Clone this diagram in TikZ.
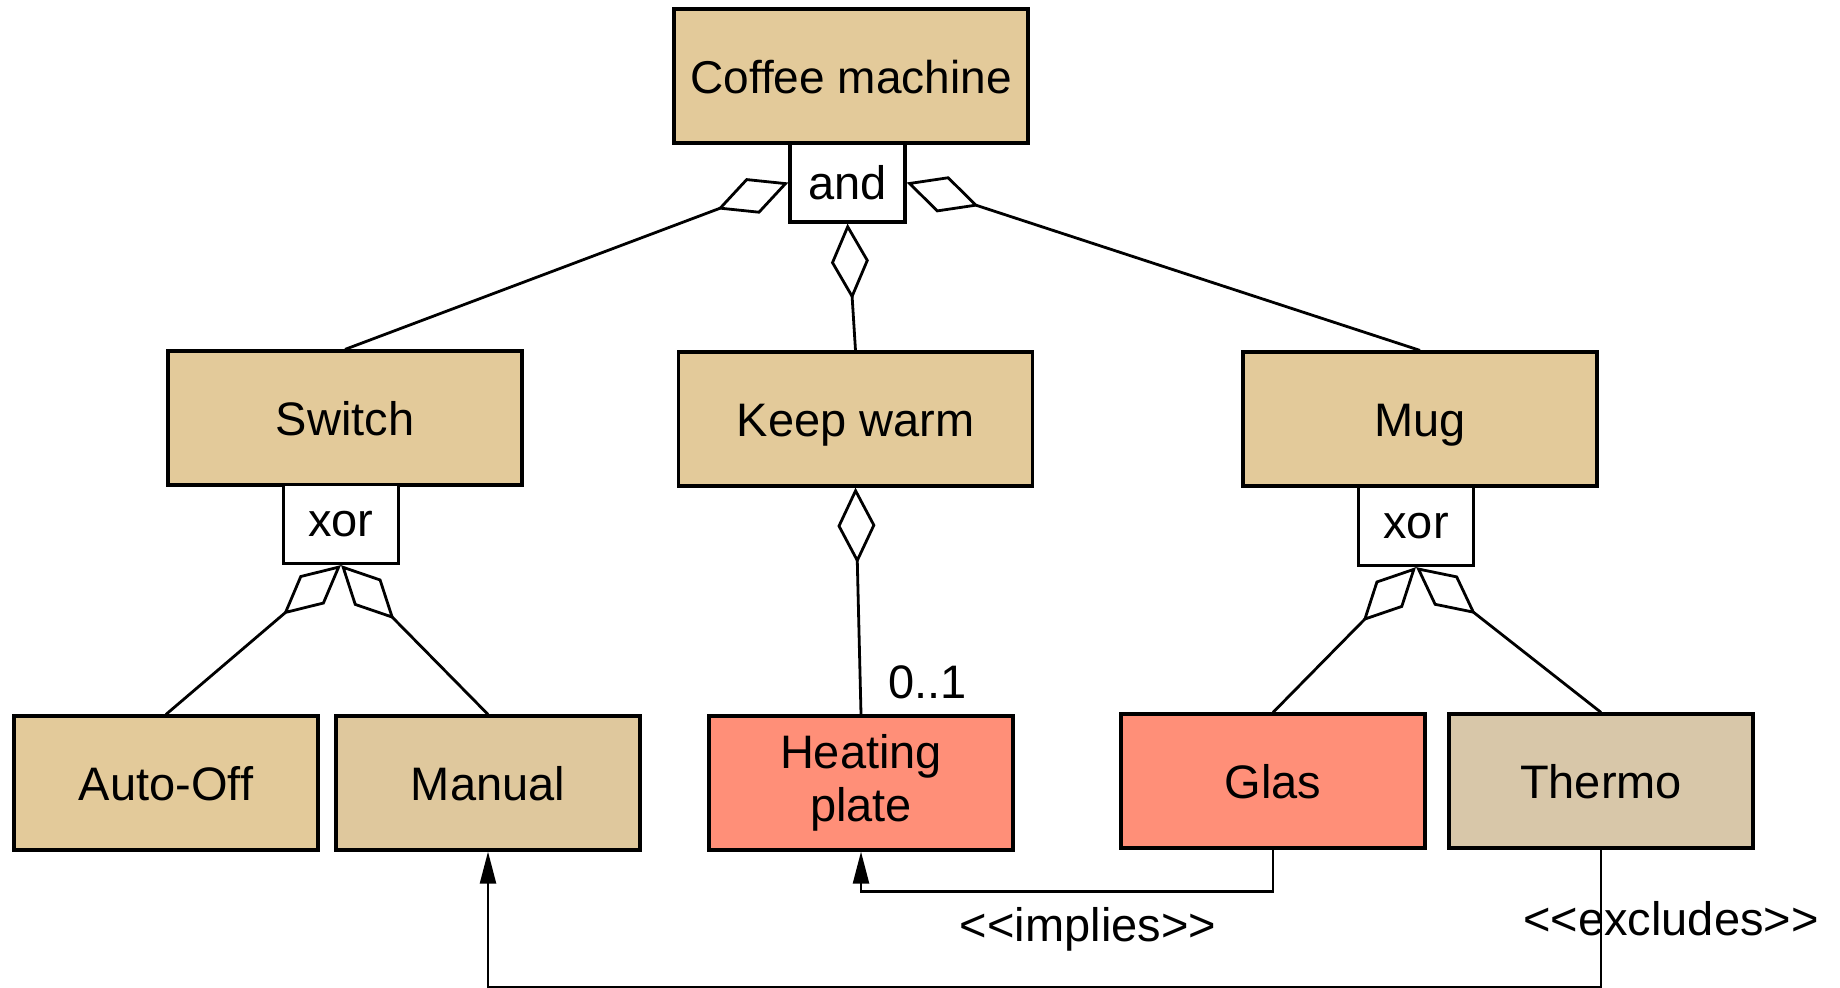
\documentclass[tikz,border=0pt]{standalone}
\usepackage{fontspec}
\setmainfont{Liberation Sans}
\usetikzlibrary{arrows.meta, positioning}
\definecolor{tanA}{RGB}{227, 202, 154}
\definecolor{tanB}{RGB}{223, 200, 157}
\definecolor{tanC}{RGB}{216, 199, 169}
\definecolor{salmonA}{RGB}{255, 143, 120}

\begin{document}
\begin{tikzpicture}[x=0.5pt, y=-0.5pt, font=\fontsize{23.5}{26.5}\selectfont,
        box/.style={rectangle, draw=black, line width=1.6pt, fill=tanA, minimum width=177pt, minimum height=67pt, inner sep=0pt, align=center, text height=17pt, text depth=0pt},
        leaf/.style={box, minimum width=152pt},
        gate/.style={rectangle, draw=black, line width=1.6pt, fill=white, minimum width=57.5pt, minimum height=39.5pt, inner sep=0pt},
        agg/.style={line width=1.4pt, -{Diamond[open, length=38pt, width=19pt]}},
        dep/.style={line width=1.2pt, -{Triangle[length=16pt, width=8pt]}},
        stereo/.style={inner sep=0pt}
    ]
        \useasboundingbox (0,0) rectangle (1840,987);
        % features
        \node[box, font=\fontsize{23}{26}\selectfont] (coffee) at (851,76) {Coffee machine};
        \node[gate] (andgate) at (847.5,182.5) {and};
        \node[box] (switch)   at (345,418)   {Switch};
        \node[box] (keepwarm) at (855.5,419) {Keep warm};
        \node[box] (mug)      at (1420,419)  {Mug};
        \node[gate] (xorA) at (341,524)  {xor};
        \node[gate] (xorB) at (1416,526) {xor};
        \node[leaf] (autooff) at (166,783)  {Auto-Off};
        \node[leaf, fill=tanB] (manual)  at (488,783)  {Manual};
        \node[leaf, fill=salmonA, text height=, text depth=] (heating) at (861,783) {Heating\\plate};
        \node[leaf, fill=salmonA] (glas)    at (1273,781) {Glas};
        \node[leaf, fill=tanC] (thermo)     at (1601,781) {Thermo};
        % decomposition
        \draw[agg] (switch.north) -- (andgate.west);
        \draw[agg] (keepwarm.north) -- (andgate.south);
        \draw[agg] (mug.north) -- (andgate.east);
        \draw[agg] (autooff.north) -- (xorA.south);
        \draw[agg] (manual.north) -- (xorA.south);
        \draw[agg] (glas.north) -- (xorB.south);
        \draw[agg] (thermo.north) -- (xorB.south);
        \draw[agg] (heating.north) node[stereo, anchor=base west, xshift=13pt, yshift=8pt] (card) {0..1} -- (keepwarm.south);
        % constraints
        \draw[dep] (glas.south) -- ++(0,42) -| (heating.south);
        \draw[dep] (thermo.south) -- ++(0,138) -| (manual.south);
        \node[stereo] (implies)  at (1088,929) {<{}<implies>{}>};
        \node[stereo] (excludes) at (1671,919) {<{}<excludes>{}>};
    \end{tikzpicture}
\end{document}
